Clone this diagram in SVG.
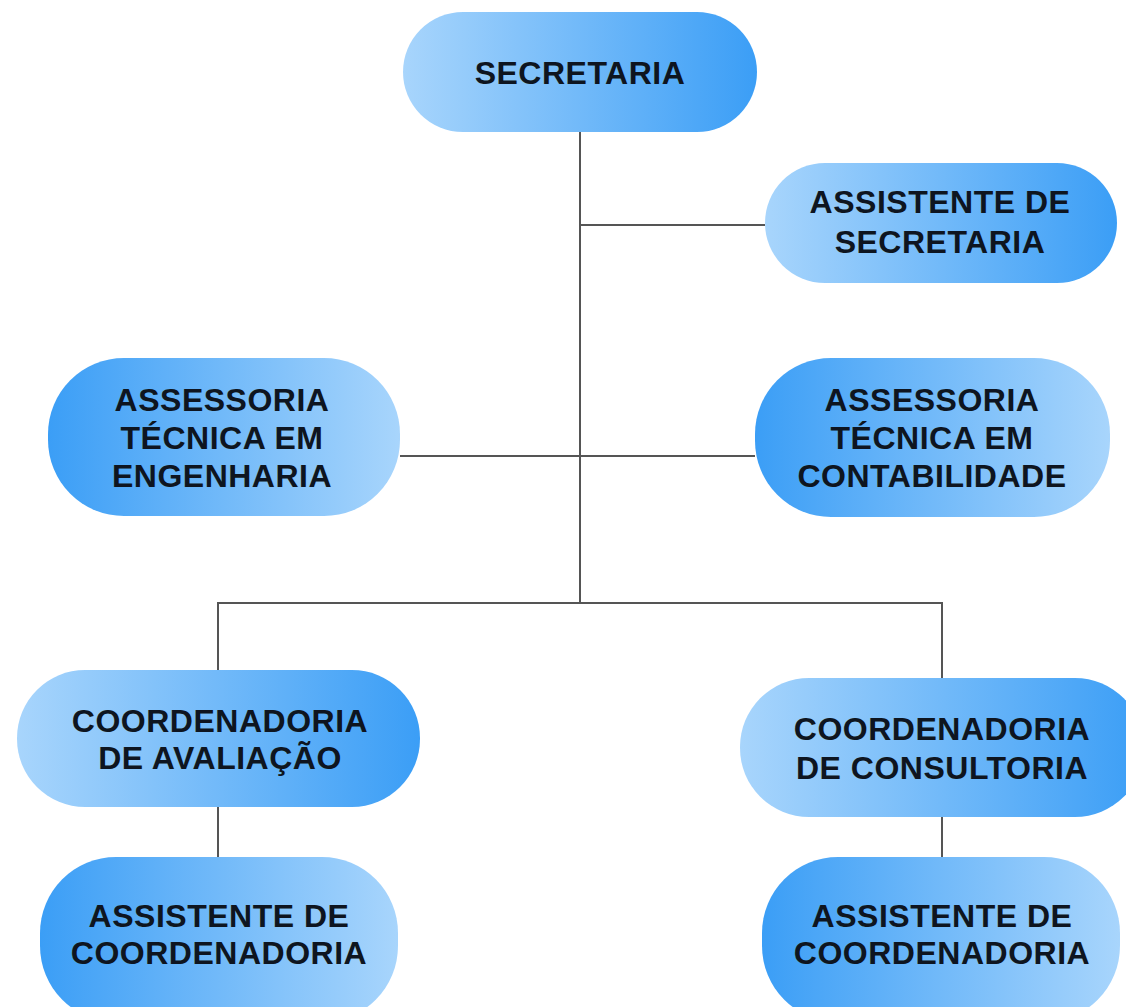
<svg xmlns="http://www.w3.org/2000/svg" width="1126" height="1007" viewBox="0 0 1126 1007">
<defs>
<linearGradient id="lr" x1="0" y1="0" x2="1" y2="0">
<stop offset="0" stop-color="#a8d5fc"/>
<stop offset="1" stop-color="#3b9ef6"/>
</linearGradient>
<linearGradient id="rl" x1="0" y1="0" x2="1" y2="0">
<stop offset="0" stop-color="#3b9ef6"/>
<stop offset="1" stop-color="#a8d5fc"/>
</linearGradient>
<style>
.t{font-family:"Liberation Sans",Arial,sans-serif;font-weight:bold;font-size:32px;fill:#0e1520;text-anchor:middle;letter-spacing:0.5px}
.c{stroke:#555;stroke-width:2;fill:none}
</style>
</defs>
<rect width="1126" height="1007" fill="#ffffff"/>
<g id="connectors">
<line class="c" x1="580" y1="132" x2="580" y2="603"/>
<line class="c" x1="580" y1="225" x2="765" y2="225"/>
<line class="c" x1="400" y1="456" x2="755" y2="456"/>
<polyline class="c" points="218,670 218,603 942,603 942,678"/>
<line class="c" x1="218" y1="807" x2="218" y2="857"/>
<line class="c" x1="942" y1="817" x2="942" y2="857"/>
</g>
<g id="secretaria">
<rect x="403" y="12" width="354" height="120" rx="60" fill="url(#lr)"/>
<text class="t" x="580" y="84">SECRETARIA</text>
</g>
<g id="assistente-secretaria">
<rect x="765" y="163" width="352" height="120" rx="60" fill="url(#lr)"/>
<text class="t" x="940" y="213">ASSISTENTE DE</text>
<text class="t" x="940" y="253">SECRETARIA</text>
</g>
<g id="assessoria-engenharia">
<rect x="48" y="358" width="352" height="158" rx="76" fill="url(#rl)"/>
<text class="t" x="222" y="411">ASSESSORIA</text>
<text class="t" x="222" y="449">TÉCNICA EM</text>
<text class="t" x="222" y="487">ENGENHARIA</text>
</g>
<g id="assessoria-contabilidade">
<rect x="755" y="358" width="355" height="159" rx="76" fill="url(#rl)"/>
<text class="t" x="932" y="411">ASSESSORIA</text>
<text class="t" x="932" y="449">TÉCNICA EM</text>
<text class="t" x="932" y="487">CONTABILIDADE</text>
</g>
<g id="coordenadoria-avaliacao">
<rect x="17" y="670" width="403" height="137" rx="68" fill="url(#lr)"/>
<text class="t" x="220" y="732">COORDENADORIA</text>
<text class="t" x="220" y="769">DE AVALIAÇÃO</text>
</g>
<g id="coordenadoria-consultoria">
<rect x="740" y="678" width="404" height="139" rx="69" fill="url(#lr)"/>
<text class="t" x="942" y="740">COORDENADORIA</text>
<text class="t" x="942" y="779">DE CONSULTORIA</text>
</g>
<g id="assistente-coordenadoria-1">
<rect x="40" y="857" width="358" height="165" rx="76" fill="url(#rl)"/>
<text class="t" x="219" y="927">ASSISTENTE DE</text>
<text class="t" x="219" y="964">COORDENADORIA</text>
</g>
<g id="assistente-coordenadoria-2">
<rect x="762" y="857" width="358" height="165" rx="76" fill="url(#rl)"/>
<text class="t" x="942" y="927">ASSISTENTE DE</text>
<text class="t" x="942" y="964">COORDENADORIA</text>
</g>
</svg>
